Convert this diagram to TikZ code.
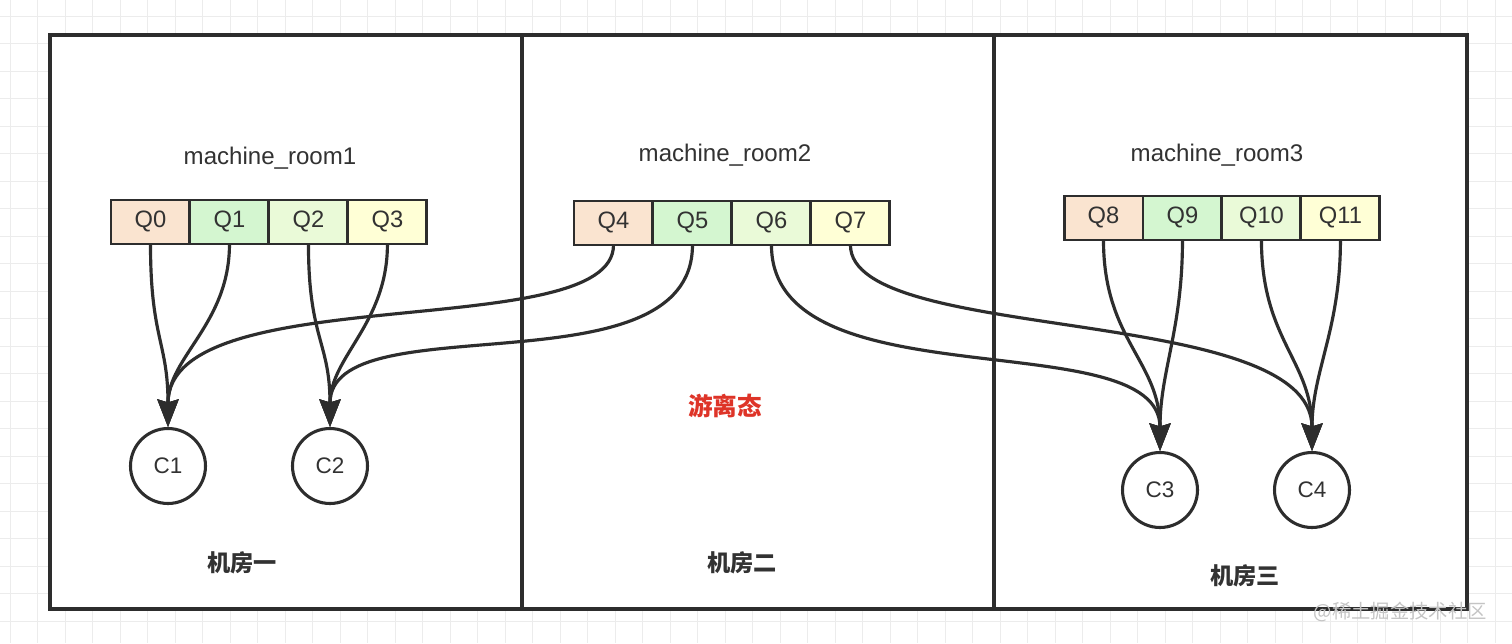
\documentclass[tikz,border=0pt]{standalone}
\usepackage{fontspec}
\setmainfont{Liberation Sans}
\newfontfamily\cjk{Noto Sans CJK SC}
\usepackage{xcolor}
\usepackage{tikz}
\usetikzlibrary{arrows.meta,positioning,calc}
\definecolor{cDark}{RGB}{ 45, 45, 45}
\definecolor{cText}{RGB}{ 50, 50, 50}
\definecolor{cGrid}{RGB}{236,236,236}
\definecolor{cMark}{RGB}{196,196,196}
\definecolor{cRed}{RGB}{222, 52, 40}
\definecolor{cPeach}{RGB}{250,228,208}
\definecolor{cMint}{RGB}{212,246,208}
\definecolor{cLime}{RGB}{234,250,216}
\definecolor{cCream}{RGB}{255,255,214}
\tikzset{
  qcell/.style ={draw=cDark,line width=1.7pt,minimum width=1.58cm,minimum height=0.88cm,
                 outer sep=0pt,inner sep=0pt,text=cText,font=\fontsize{13.5}{16}\selectfont,
                 text height=1.2ex,text depth=0pt},
  qa/.style    ={qcell,fill=cPeach},
  qb/.style    ={qcell,fill=cMint},
  qc/.style    ={qcell,fill=cLime},
  qd/.style    ={qcell,fill=cCream},
  cons/.style  ={circle,draw=cDark,fill=white,line width=1.75pt,minimum size=1.50cm,
                 inner sep=0pt,text=cText,font=\fontsize{12.8}{15}\selectfont},
  fl/.style    ={-{Stealth[length=0.55cm,width=0.42cm,inset=0.06cm]},draw=cDark,line width=1.8pt},
  frm/.style   ={draw=cDark,line width=1.8pt},
  rlbl/.style  ={text=cText,font=\fontsize{13.7}{16}\selectfont},
  rname/.style ={text=cText,font=\cjk\bfseries\fontsize{13.2}{16}\selectfont},
}
\begin{document}
\begin{tikzpicture}[x=0.02cm,y=-0.02cm]
\useasboundingbox (0,0) rectangle (1512,643);

%% ================= background grid =====================================
\foreach \gx in {10,37.5,...,1512}
  \draw[cGrid,line width=0.5pt] (\gx,0) -- (\gx,643);
\foreach \gy in {16,43.5,...,643}
  \draw[cGrid,line width=0.5pt] (0,\gy) -- (1512,\gy);

%% ================= three rooms =========================================
\fill[white] (50,35) rectangle (1467,609);
\draw[frm] (50,35) rectangle (1467,609);
\draw[frm] (522,35) -- (522,609);
\draw[frm] (994,35) -- (994,609);

\node[rlbl] (mr1) at (270,158) {machine\_room1};
\node[rlbl] (mr2) at (725,155) {machine\_room2};
\node[rlbl] (mr3) at (1217,155) {machine\_room3};

\node[rname] (jf1) at (242,563) {机房一};
\node[rname] (jf2) at (742,563) {机房二};
\node[rname] (jf3) at (1245,576) {机房三};
\node[text=cRed,font=\cjk\bfseries\fontsize{14}{17}\selectfont] (yl) at (725,406) {游离态};

%% ================= queues ==============================================
% each room holds four cells, laid edge to edge (outer sep=0pt)
\node[qa,anchor=north west] (q0) at (111,200) {Q0};
\node[qb,right=0pt of q0] (q1) {Q1};
\node[qc,right=0pt of q1] (q2) {Q2};
\node[qd,right=0pt of q2] (q3) {Q3};

\node[qa,anchor=north west] (q4) at (574,201) {Q4};
\node[qb,right=0pt of q4] (q5) {Q5};
\node[qc,right=0pt of q5] (q6) {Q6};
\node[qd,right=0pt of q6] (q7) {Q7};

\node[qa,anchor=north west] (q8) at (1064,196) {Q8};
\node[qb,right=0pt of q8] (q9) {Q9};
\node[qc,right=0pt of q9] (q10) {Q10};
\node[qd,right=0pt of q10] (q11) {Q11};

%% ================= consumers ===========================================
\node[cons] (c1) at (168,466) {C1};
\node[cons] (c2) at (330,466) {C2};
\node[cons] (c3) at (1160,490) {C3};
\node[cons] (c4) at (1312,490) {C4};

%% ================= assignment ==========================================
\draw[fl] (q0.south) .. controls +(0,95) and +(0,-85) .. (c1.north);
\draw[fl] (q1.south) .. controls +(0,80) and +(0,-70) .. (c1.north);
\draw[fl] (q2.south) .. controls +(0,95) and +(0,-85) .. (c2.north);
\draw[fl] (q3.south) .. controls +(0,80) and +(0,-70) .. (c2.north);

% room 2 has no consumer, so its queues run out to rooms 1 and 3
\draw[fl] (q4.south) .. controls +(0,100) and +(0,-150) .. (c1.north);
\draw[fl] (q5.south) .. controls +(0,150) and +(0,-125) .. (c2.north);
\draw[fl] (q6.south) .. controls +(0,160) and +(0,-130) .. (c3.north);
\draw[fl] (q7.south) .. controls +(0,100) and +(0,-148) .. (c4.north);

\draw[fl] (q8.south) .. controls +(0,100) and +(0,-90) .. (c3.north);
\draw[fl] (q9.south) .. controls +(0,90) and +(0,-80) .. (c3.north);
\draw[fl] (q10.south) .. controls +(0,100) and +(0,-90) .. (c4.north);
\draw[fl] (q11.south) .. controls +(0,90) and +(0,-80) .. (c4.north);

\node[text=cMark,font=\cjk\fontsize{11}{13}\selectfont,anchor=east] (wm) at (1493,612) {@稀土掘金技术社区};

\end{tikzpicture}
\end{document}
